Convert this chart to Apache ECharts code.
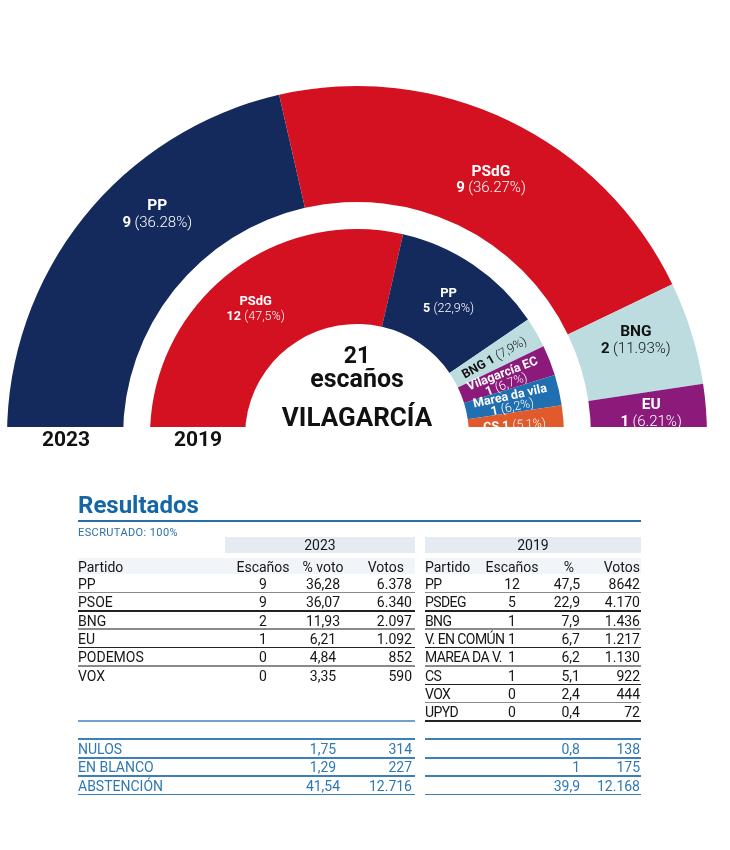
<!DOCTYPE html>
<html>
<head>
<meta charset="utf-8">
<script src="https://cdn.jsdelivr.net/npm/echarts@6/dist/echarts.min.js"></script>
<style>
  html, body { margin:0; padding:0; background:#fff; }
  body { width:730px; height:850px; position:relative; overflow:hidden; font-family: Roboto, "Noto Sans", sans-serif; }
  #chart { position:absolute; left:0; top:0; width:730px; height:470px; }
  #table { position:absolute; left:0; top:0; width:730px; height:850px; pointer-events:none; }
  .t { position:absolute; font-size:14px; line-height:16px; color:#161616; white-space:nowrap; }
  .ln { position:absolute; }
</style>
</head>
<body>
<div id="chart"></div>
<div id="table"></div>
<script>
// ---- Chart data ----
const parties2023 = ['PP', 'PSdG', 'BNG', 'EU'];
const seats2023 = [9, 9, 2, 1];
const pct2023 = ['36.28', '36.27', '11.93', '6.21'];
const colors2023 = ['#152a5c', '#d31121', '#bcdcdf', '#8b1a7b'];
const labelColors2023 = ['#ffffff', '#ffffff', '#111111', '#ffffff'];

const parties2019 = ['PSdG', 'PP', 'BNG', 'Vilagarcía EC', 'Marea da vila', 'CS'];
const seats2019 = [12, 5, 1, 1, 1, 1];
const pct2019 = ['47,5', '22,9', '7,9', '6,7', '6,2', '5,1'];
const colors2019 = ['#d31121', '#152a5c', '#bcdcdf', '#8b1a7b', '#1f6fb1', '#e05a2b'];
const labelColors2019 = ['#ffffff', '#ffffff', '#111111', '#ffffff', '#ffffff', '#ffffff'];

const totalSeats = '21';
const seatsWord = 'escaños';
const placeName = 'VILAGARCÍA';
const yearLabels = ['2023', '2019'];

// ---- Table data ----
const tParty23 = ['PP', 'PSOE', 'BNG', 'EU', 'PODEMOS', 'VOX'];
const tSeats23 = ['9', '9', '2', '1', '0', '0'];
const tPct23 = ['36,28', '36,07', '11,93', '6,21', '4,84', '3,35'];
const tVotes23 = ['6.378', '6.340', '2.097', '1.092', '852', '590'];

const tParty19 = ['PP', 'PSDEG', 'BNG', 'V. EN COMÚN', 'MAREA DA V.', 'CS', 'VOX', 'UPYD'];
const tSeats19 = ['12', '5', '1', '1', '1', '1', '0', '0'];
const tPct19 = ['47,5', '22,9', '7,9', '6,7', '6,2', '5,1', '2,4', '0,4'];
const tVotes19 = ['8642', '4.170', '1.436', '1.217', '1.130', '922', '444', '72'];

const otherLabels = ['NULOS', 'EN BLANCO', 'ABSTENCIÓN'];
const otherPct23 = ['1,75', '1,29', '41,54'];
const otherVotes23 = ['314', '227', '12.716'];
const otherPct19 = ['0,8', '1', '39,9'];
const otherVotes19 = ['138', '175', '12.168'];

const headers23 = ['Partido', 'Escaños', '% voto', 'Votos'];
const headers19 = ['Partido', 'Escaños', '%', 'Votos'];

// ---- Chart ----
const FONT = 'Roboto';
const CX = 357, CY = 436;
const chart = echarts.init(document.getElementById('chart'), null, { renderer: 'canvas' });

function outerData() {
  return parties2023.map((p, i) => ({
    name: p, value: seats2023[i],
    itemStyle: { color: colors2023[i] },
    label: { color: labelColors2023[i] }
  }));
}
function innerData() {
  return parties2019.map((p, i) => ({
    name: p, value: seats2019[i],
    itemStyle: { color: colors2019[i] },
    label: { color: labelColors2019[i], show: i < 2 }
  }));
}

// Rotated labels for the thin 2019 slices, placed from the seat data
const smallRich = {
  sn: { fontFamily: FONT, fontWeight: 'bold', fontSize: 12.5, lineHeight: 11 },
  sl: { fontFamily: FONT, fontWeight: 300, fontSize: 12.5, lineHeight: 11 }
};
function smallLabels() {
  const total = seats2019.reduce((a, b) => a + b, 0);
  let cum = 0;
  const out = [];
  seats2019.forEach((v, i) => {
    const midDeg = 180 - (cum + v / 2) / total * 180;
    cum += v;
    if (i < 2) return;
    const a = (midDeg - 0.6) * Math.PI / 180;
    const r = 158;
    let text;
    if (i === 3 || i === 4) text = '{sn|' + parties2019[i] + '}\n{sn|' + seats2019[i] + '} {sl|(' + pct2019[i] + '%)}';
    else text = '{sn|' + parties2019[i] + ' ' + seats2019[i] + '} {sl|(' + pct2019[i] + '%)}';
    out.push({
      type: 'text', z: 50,
      x: CX + r * Math.cos(a), y: CY - r * Math.sin(a),
      rotation: a,
      style: { text, x: 0, y: 0, textAlign: 'center', textVerticalAlign: 'middle', fill: labelColors2019[i], rich: smallRich, fontFamily: FONT }
    });
  });
  return out;
}

const option = {
  animation: false,
  series: [
    {
      type: 'pie',
      center: [CX, CY],
      radius: [234, 350],
      startAngle: 180,
      endAngle: 0,
      clockwise: true,
      silent: true,
      avoidLabelOverlap: false,
      itemStyle: { borderWidth: 0 },
      labelLine: { show: false },
      label: {
        show: true,
        position: 'inside',
        align: 'center',
        formatter: (p) => '{n|' + parties2023[p.dataIndex] + '}\n{b|' + seats2023[p.dataIndex] + '} {l|(' + pct2023[p.dataIndex] + '%)}',
        rich: {
          n: { fontFamily: FONT, fontWeight: 'bold', fontSize: 15.5, lineHeight: 17 },
          b: { fontFamily: FONT, fontWeight: 'bold', fontSize: 15, lineHeight: 17 },
          l: { fontFamily: FONT, fontWeight: 300, fontSize: 15, lineHeight: 17 }
        }
      },
      labelLayout: (params) => {
        if (params.dataIndex === 0) return { dx: 31, dy: -37 };
        if (params.dataIndex === 1) return { dx: 6, dy: 10 };
        if (params.dataIndex === 2) return { dx: -3, dy: -8 };
        return {};
      },
      data: outerData()
    },
    {
      type: 'pie',
      center: [CX, CY],
      radius: [112, 207],
      startAngle: 180,
      endAngle: 0,
      clockwise: true,
      silent: true,
      avoidLabelOverlap: false,
      itemStyle: { borderWidth: 0 },
      labelLine: { show: false },
      label: {
        show: true,
        position: 'inside',
        align: 'center',
        formatter: (p) => {
          const i = p.dataIndex;
          return '{n|' + parties2019[i] + '}\n{b|' + seats2019[i] + '} {l|(' + pct2019[i] + '%)}';
        },
        rich: {
          n: { fontFamily: FONT, fontWeight: 'bold', fontSize: 13, lineHeight: 15 },
          b: { fontFamily: FONT, fontWeight: 'bold', fontSize: 12.5, lineHeight: 15 },
          l: { fontFamily: FONT, fontWeight: 300, fontSize: 12.5, lineHeight: 15 }
        }
      },
      data: innerData()
    }
  ],
  graphic: smallLabels().concat([
    { type: 'rect', z: 100, shape: { x: 0, y: 427, width: 730, height: 60 }, style: { fill: '#ffffff' } },
    { type: 'text', z: 101, style: { text: totalSeats, x: CX, y: 357, textAlign: 'center', textVerticalAlign: 'middle', fontFamily: FONT, fontWeight: 'bold', fontSize: 23, fill: '#111' } },
    { type: 'text', z: 101, style: { text: seatsWord, x: CX, y: 381, textAlign: 'center', textVerticalAlign: 'middle', fontFamily: FONT, fontWeight: 'bold', fontSize: 25, fill: '#111' } },
    { type: 'text', z: 101, style: { text: placeName, x: CX, y: 419, textAlign: 'center', textVerticalAlign: 'middle', fontFamily: FONT, fontWeight: 'bold', fontSize: 26, fill: '#111' } },
    { type: 'text', z: 101, style: { text: yearLabels[0], x: 66, y: 441, textAlign: 'center', textVerticalAlign: 'middle', fontFamily: FONT, fontWeight: 'bold', fontSize: 21, fill: '#111' } },
    { type: 'text', z: 101, style: { text: yearLabels[1], x: 198, y: 441, textAlign: 'center', textVerticalAlign: 'middle', fontFamily: FONT, fontWeight: 'bold', fontSize: 21, fill: '#111' } }
  ])
};
chart.setOption(option);

// ---- Table ----
const tbl = document.getElementById('table');
function txt(x, y, s, align, extra) {
  const d = document.createElement('div');
  d.className = 't';
  d.textContent = s;
  const w = 240;
  if (align === 'right') { d.style.left = (x - w) + 'px'; d.style.width = w + 'px'; d.style.textAlign = 'right'; }
  else if (align === 'center') { d.style.left = (x - w / 2) + 'px'; d.style.width = w + 'px'; d.style.textAlign = 'center'; }
  else { d.style.left = x + 'px'; }
  d.style.top = (y - 8) + 'px';
  if (extra) Object.assign(d.style, extra);
  tbl.appendChild(d);
}
function line(x1, x2, y, h, color) {
  const d = document.createElement('div');
  d.className = 'ln';
  d.style.left = x1 + 'px'; d.style.width = (x2 - x1) + 'px';
  d.style.top = (y - h / 2) + 'px'; d.style.height = h + 'px';
  d.style.background = color;
  tbl.appendChild(d);
}
const LBLUE = '#2f78b4';

// Title
txt(78, 506, 'Resultados', 'left', { fontSize: '24px', lineHeight: '26px', top: '492px', fontWeight: 'bold', color: '#1566a6' });
line(78, 641, 521, 2, '#2a6ea8');
txt(78, 533, 'ESCRUTADO: 100%', 'left', { fontSize: '11px', letterSpacing: '0.4px', color: '#2a6fa8' });

// Year bands
line(225, 415, 544.5, 16, '#e6ebf3');
line(425, 641, 544.5, 16, '#e6ebf3');
txt(320, 545, yearLabels[0], 'center');
txt(533, 545, yearLabels[1], 'center');

// header bands
line(78, 415, 566, 16, '#f1f4f8');
line(425, 641, 566, 16, '#f1f4f8');

// Left table header
const hy = 567;
txt(78, hy, headers23[0], 'left');
txt(263, hy, headers23[1], 'center');
txt(323, hy, headers23[2], 'center');
txt(404, hy, headers23[3], 'right');
// Right table header
txt(425, hy, headers19[0], 'left');
txt(512, hy, headers19[1], 'center');
txt(569, hy, headers19[2], 'center');
txt(640, hy, headers19[3], 'right');

const rowY = (i) => 584 + i * 18.35;

tParty23.forEach((p, i) => {
  const y = rowY(i);
  txt(78, y, p, 'left');
  txt(263, y, tSeats23[i], 'center');
  txt(323, y, tPct23[i], 'center');
  txt(412, y, tVotes23[i], 'right');
  if (i < tParty23.length - 1) line(78, 415, y + 8.5, 1.5, i % 2 === 0 ? '#8a8a8a' : '#222');
});
tParty19.forEach((p, i) => {
  const y = rowY(i);
  txt(425, y, p, 'left', { letterSpacing: '-0.6px' });
  txt(512, y, tSeats19[i], 'center');
  txt(580, y, tPct19[i], 'right');
  txt(640, y, tVotes19[i], 'right');
  line(425, 641, y + 8.5, 1.5, i % 2 === 0 ? '#8a8a8a' : '#222');
});

// blue separators
line(78, 415, 721, 2, '#6fa2cf');
line(78, 415, 739, 1.5, '#3f7fb8');
line(425, 641, 739, 1.5, '#3f7fb8');

otherLabels.forEach((p, i) => {
  const y = 749 + i * 18.3;
  const c = { color: LBLUE };
  txt(78, y, p, 'left', c);
  txt(323, y, otherPct23[i], 'center', c);
  txt(412, y, otherVotes23[i], 'right', c);
  txt(580, y, otherPct19[i], 'right', c);
  txt(640, y, otherVotes19[i], 'right', c);
  line(78, 415, y + 8.8, 1.5, '#3f7fb8');
  line(425, 641, y + 8.8, 1.5, '#3f7fb8');
});
</script>
</body>
</html>
